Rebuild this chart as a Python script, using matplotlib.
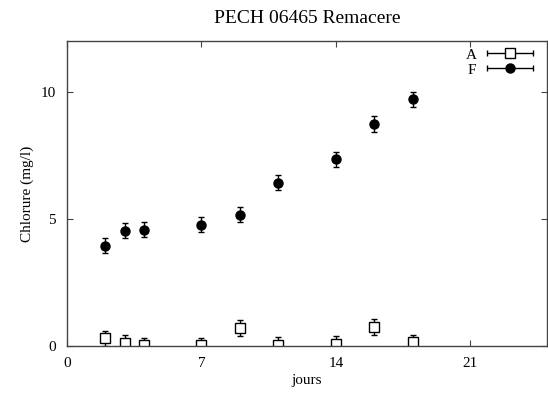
import numpy as np
import matplotlib
matplotlib.use('Agg')
import matplotlib.pyplot as plt
from matplotlib.legend_handler import HandlerErrorbar

plt.rcParams['font.family'] = ['Liberation Serif', 'DejaVu Serif']
plt.rcParams['font.size'] = 11

# days of sampling
jours = [2, 3, 4, 7, 9, 11, 14, 16, 18]

# Chlorure (mg/l)
chl_A = [0.30, 0.13, 0.03, 0.03, 0.71, 0.04, 0.08, 0.75, 0.14]
chl_F = [3.95, 4.54, 4.58, 4.78, 5.16, 6.43, 7.35, 8.73, 9.71]
err_A = [0.3] * len(jours)
err_F = [0.3] * len(jours)

xticks = [0, 7, 14, 21]
yticks = [0, 5, 10]

fig = plt.figure(figsize=(5.48, 4.01), dpi=100)
ax = fig.add_axes([67/548, 1 - 346/401, (547 - 67)/548, (346 - 41)/401])

ax.errorbar(jours, chl_A, yerr=err_A, fmt='s', mfc='white', mec='black',
            ms=6.5, mew=1, ecolor='black', elinewidth=1, capsize=2.2, capthick=1)
ax.errorbar(jours, chl_F, yerr=err_F, fmt='o', color='black',
            ms=6.5, ecolor='black', elinewidth=1, capsize=2.2, capthick=1)

# legend handles drawn with horizontal error bars, as in the original
hA = ax.errorbar([np.nan], [np.nan], xerr=[1], fmt='s', mfc='white', mec='black',
                 ms=6.5, mew=1, ecolor='black', elinewidth=1, capsize=2.2)
hF = ax.errorbar([np.nan], [np.nan], xerr=[1], fmt='o', color='black',
                 ms=6.5, ecolor='black', elinewidth=1, capsize=2.2)
ax.legend([hA, hF], ['A', 'F'], loc='upper right', frameon=False,
          markerfirst=False, handlelength=3.0, labelspacing=0.1,
          borderaxespad=0.15, borderpad=0.3, handletextpad=0.7, fontsize=11,
          bbox_to_anchor=(0.985, 1.0),
          handler_map={type(hA): HandlerErrorbar(xerr_size=1.5)})

ax.set_xlim(0, 25)
ax.set_ylim(0, 12)
ax.set_xticks(xticks)
ax.set_yticks(yticks)
ax.tick_params(direction='in', length=4, width=0.8, top=True, right=True,
               color='#444444', labelsize=11)
ax.tick_params(axis='x', pad=8)
ax.tick_params(axis='y', pad=8)
for s in ax.spines.values():
    s.set_color('#444444')
    s.set_linewidth(1)

ax.set_xlabel('jours', fontsize=11, labelpad=3)
ax.set_ylabel('Chlorure (mg/l)', fontsize=11, labelpad=5)
ax.set_title('PECH 06465 Remacere', fontsize=14, pad=13)

fig.savefig('out.png', dpi=100)
